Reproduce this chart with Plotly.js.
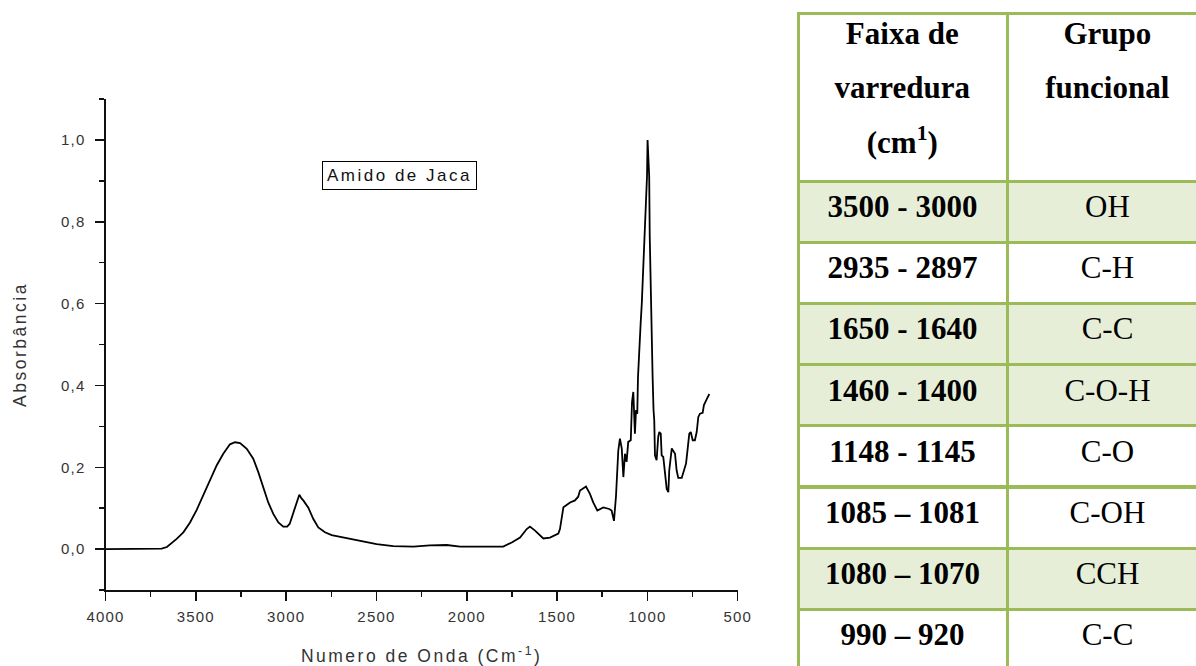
<!DOCTYPE html>
<html>
<head>
<meta charset="utf-8">
<script src="https://cdn.plot.ly/plotly-3.0.1.min.js"></script>
<style>
  html, body { margin: 0; padding: 0; background: #fff; overflow: hidden; }
  #chart { width: 1230px; height: 690px; }
  .xtick text, .ytick text { letter-spacing: 1.2px; }
  .g-xtitle text, .g-ytitle text { letter-spacing: 2.5px; }
  .annotation-text { letter-spacing: 2.5px; }
</style>
</head>
<body>
<div id="chart"></div>
<script>
// FTIR spectrum of jackfruit starch (absorbance vs wavenumber)
const wavenumber = [
  4000, 3800, 3700, 3689, 3660, 3643, 3606, 3569, 3532, 3495, 3459, 3421, 3384, 3348,
  3311, 3283, 3255, 3218, 3182, 3154, 3126, 3099, 3071, 3043, 3016, 2994, 2980, 2969,
  2945, 2927, 2915, 2905, 2877, 2850, 2822, 2785, 2748, 2702, 2683, 2591, 2499, 2407,
  2296, 2204, 2111, 2037, 1927, 1798, 1751, 1705, 1668, 1650, 1622, 1576, 1539, 1493,
  1484, 1474, 1465, 1428, 1401, 1383, 1373, 1340, 1318, 1300, 1277, 1244, 1211, 1198,
  1185, 1174, 1161, 1152, 1142, 1133, 1124, 1115, 1106, 1092, 1085, 1078, 1069, 1063,
  1056, 1052, 1048, 1042, 1037, 1031, 1026, 1020, 1015, 1008, 1002, 999, 995, 990,
  987, 982, 979, 975, 971, 966, 962, 958, 949, 940, 934, 926, 921, 912, 902, 893,
  884, 879, 865, 857, 847, 838, 829, 810, 797, 786, 779, 768, 760, 749, 737, 727,
  718, 709, 694, 687, 672, 657
];
const absorbance = [
  0.000, 0.000, 0.000, 0.001, 0.005, 0.011, 0.025, 0.041, 0.065, 0.096, 0.131, 0.168, 0.205, 0.233,
  0.256, 0.261, 0.259, 0.245, 0.221, 0.188, 0.151, 0.114, 0.086, 0.065, 0.055, 0.055, 0.062, 0.078,
  0.110, 0.133, 0.124, 0.119, 0.101, 0.074, 0.053, 0.041, 0.034, 0.030, 0.028, 0.019, 0.012, 0.007,
  0.006, 0.009, 0.010, 0.006, 0.006, 0.006, 0.016, 0.028, 0.049, 0.055, 0.045, 0.026, 0.028, 0.038,
  0.049, 0.078, 0.102, 0.114, 0.119, 0.128, 0.143, 0.153, 0.135, 0.114, 0.094, 0.102, 0.098, 0.094,
  0.069, 0.128, 0.241, 0.270, 0.246, 0.176, 0.233, 0.213, 0.262, 0.266, 0.360, 0.384, 0.282, 0.340,
  0.331, 0.420, 0.467, 0.510, 0.554, 0.600, 0.656, 0.730, 0.799, 0.860, 0.912, 1.000, 0.960, 0.912,
  0.765, 0.640, 0.550, 0.487, 0.420, 0.340, 0.315, 0.229, 0.217, 0.274, 0.286, 0.282, 0.229, 0.225, 0.184, 0.147,
  0.139, 0.192, 0.246, 0.241, 0.233, 0.192, 0.174, 0.174, 0.192, 0.209, 0.237, 0.282, 0.286, 0.266, 0.266, 0.286,
  0.323, 0.331, 0.333, 0.352, 0.366, 0.379
];
const sampleLabel = 'Amido de Jaca';

// Band assignment table
const headerLines = [
  ['Faixa de', 'varredura', '(cm<sup>1</sup>)'],
  ['Grupo', 'funcional']
];
const rangeLabels = ['3500 - 3000', '2935 - 2897', '1650 - 1640', '1460 - 1400',
                     '1148 - 1145', '1085 \u2013 1081', '1080 \u2013 1070', '990 \u2013 920'];
const groupLabels = ['OH', 'C-H', 'C-C', 'C-O-H', 'C-O', 'C-OH', 'CCH', 'C-C'];
const shadedRows = [true, false, true, true, false, false, true, false];

const W = 1230, H = 690;
const px = v => v / W;
const py = v => 1 - v / H;

const GREEN_LINE = '#9BBB59';
const GREEN_FILL = '#E6EED8';
const SERIF = '"Liberation Serif", "Times New Roman", serif';
const CELL_FONT = 31;
const HEADER_LIFT = 5.5;   // px the header lines are raised inside their cell
const rowFill = shadedRows.map(s => s ? GREEN_FILL : '#FFFFFF');

// Width of a header line in bold serif (superscripts at 70%)
const ctx = document.createElement('canvas').getContext('2d');
function measure(html) {
  let w = 0;
  html.split(/(<sup>.*?<\/sup>)/).forEach(part => {
    if (!part) return;
    const m = part.match(/^<sup>(.*)<\/sup>$/);
    ctx.font = 'bold ' + (m ? CELL_FONT * 0.7 : CELL_FONT) + 'px "Liberation Serif"';
    w += ctx.measureText(m ? m[1] : part).width;
  });
  return w;
}
ctx.font = 'bold ' + CELL_FONT + 'px "Liberation Serif"';
const NBSP = '\u00A0';
const nbspW = ctx.measureText(NBSP).width;

// Lines of a table cell are laid out flush left inside the text block,
// so each shorter line gets a leading pad to sit centred.
function centredHeader(lines) {
  const widths = lines.map(measure);
  const maxW = Math.max(...widths);
  return lines.map((l, i) => {
    const pad = (maxW - widths[i]) / 2;
    const n = Math.floor(pad / nbspW);
    const rest = pad - n * nbspW;
    let lead = NBSP.repeat(n);
    if (rest > 0.4) {
      lead += '<span style="font-size:' + (rest / nbspW * CELL_FONT).toFixed(2) + 'px">' + NBSP + '</span>';
    }
    return '<span style="font-size:' + CELL_FONT + 'px">' + lead + '<b>' + l + '</b></span>';
  }).join('<br>');
}

const spectrum = {
  type: 'scatter',
  mode: 'lines',
  x: wavenumber,
  y: absorbance,
  line: { color: '#000', width: 1.8 },
  hoverinfo: 'skip'
};

const table = {
  type: 'table',
  domain: { x: [px(798), px(1209)], y: [0, py(13)] },
  columnwidth: [209, 201],
  header: {
    values: headerLines.map(centredHeader),
    align: 'center',
    height: 168,
    fill: { color: '#FFFFFF' },
    line: { color: GREEN_LINE, width: 3 },
    // larger base size sets the spacing between the header lines
    font: { family: SERIF, size: 42, color: '#000' }
  },
  cells: {
    values: [rangeLabels.map(t => '<b>' + t + '</b>'), groupLabels.map(t => '<span>' + t + '</span>')],
    align: 'center',
    height: 61.2,
    fill: { color: [rowFill, rowFill] },
    line: { color: GREEN_LINE, width: 3 },
    font: { family: SERIF, size: CELL_FONT, color: '#000' }
  }
};

const axisCommon = {
  showline: true, linecolor: '#111', linewidth: 2,
  ticks: 'outside', ticklen: 9, tickwidth: 1.5, tickcolor: '#111',
  showgrid: false, zeroline: false,
  tickfont: { size: 15, color: '#333' }
};

const layout = {
  width: W, height: H,
  margin: { l: 0, r: 0, t: 0, b: 0 },
  paper_bgcolor: '#fff', plot_bgcolor: '#fff',
  separators: ',.',
  showlegend: false,
  font: { family: 'Arial, "Liberation Sans", sans-serif', color: '#222' },
  xaxis: Object.assign({}, axisCommon, {
    domain: [px(105.5), px(737.7)],
    range: [4000, 500], autorange: false,
    tick0: 0, dtick: 500,
    ticklabelstandoff: 3,
    minor: { dtick: 250, ticks: 'outside', ticklen: 5, tickwidth: 1.5, tickcolor: '#111', showgrid: false },
    title: { text: 'Numero de Onda (Cm<sup>-1</sup>)', font: { size: 17.5, color: '#333' }, standoff: 26 }
  }),
  yaxis: Object.assign({}, axisCommon, {
    domain: [py(590), py(99)],
    range: [-0.1, 1.1], autorange: false,
    tick0: 0, dtick: 0.2, tickformat: '.1f',
    ticklabelstandoff: 6,
    minor: { dtick: 0.1, ticks: 'outside', ticklen: 5, tickwidth: 1.5, tickcolor: '#111', showgrid: false },
    title: { text: 'Absorbância', font: { size: 17.5, color: '#333' }, standoff: 30 }
  }),
  annotations: [{
    x: 2375, y: 0.912, xref: 'x', yref: 'y',
    text: sampleLabel, showarrow: false,
    bordercolor: '#000', borderwidth: 1, borderpad: 4,
    font: { size: 17, color: '#111' }
  }]
};

Plotly.newPlot('chart', [spectrum, table], layout, { displayModeBar: false, staticPlot: true })
  .then(gd => {
    // raise the header text block a little within its cells
    gd.querySelectorAll('#header .cell-text-holder').forEach(el => {
      const t = el.getAttribute('transform') || '';
      const m = t.match(/translate\(\s*([-\d.e]+)[ ,]+([-\d.e]+)\s*\)/);
      if (m) {
        el.setAttribute('transform',
          'translate(' + m[1] + ',' + (parseFloat(m[2]) - HEADER_LIFT) + ')');
      }
    });
  });
</script>
</body>
</html>
